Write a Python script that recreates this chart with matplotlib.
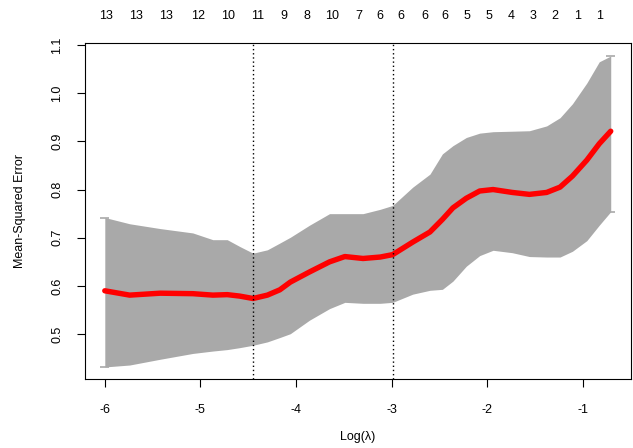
import numpy as np
import matplotlib
matplotlib.use('Agg')
import matplotlib.pyplot as plt

plt.rcParams['font.family'] = ['Liberation Sans', 'DejaVu Sans']
plt.rcParams['axes.unicode_minus'] = False

# log(lambda) positions of the read-off points
log_lambda = [-6.00, -5.74, -5.42, -5.08, -4.87, -4.72, -4.59, -4.45, -4.30, -4.17,
              -4.06, -3.86, -3.65, -3.49, -3.30, -3.12, -2.99, -2.78, -2.60, -2.47,
              -2.36, -2.22, -2.08, -1.94, -1.74, -1.56, -1.38, -1.24, -1.11, -0.96,
              -0.83, -0.71]
# cross-validated mean-squared error
cvm = [0.590, 0.581, 0.585, 0.584, 0.581, 0.582, 0.579, 0.574, 0.581, 0.592,
       0.608, 0.629, 0.650, 0.661, 0.657, 0.660, 0.665, 0.691, 0.712, 0.738,
       0.762, 0.782, 0.797, 0.800, 0.794, 0.790, 0.794, 0.805, 0.828, 0.861,
       0.895, 0.921]
cv_upper = [0.742, 0.729, 0.719, 0.710, 0.696, 0.696, 0.682, 0.668, 0.675, 0.689,
            0.701, 0.726, 0.750, 0.750, 0.750, 0.759, 0.767, 0.805, 0.832, 0.874,
            0.891, 0.908, 0.917, 0.920, 0.921, 0.922, 0.932, 0.949, 0.978, 1.021,
            1.065, 1.077]
cv_lower = [0.432, 0.436, 0.448, 0.460, 0.465, 0.468, 0.472, 0.477, 0.484, 0.493,
            0.501, 0.529, 0.553, 0.566, 0.564, 0.564, 0.566, 0.583, 0.591, 0.593,
            0.610, 0.641, 0.663, 0.674, 0.669, 0.661, 0.660, 0.660, 0.672, 0.694,
            0.726, 0.754]

lambda_min = -4.45
lambda_1se = -2.99

# number of nonzero coefficients (top axis)
nz_pos = [-5.99, -5.67, -5.36, -5.03, -4.71, -4.40, -4.13, -3.89, -3.62, -3.34,
          -3.12, -2.90, -2.65, -2.44, -2.21, -1.98, -1.75, -1.52, -1.29, -1.06, -0.83]
nz_labels = ['13', '13', '13', '12', '10', '11', '9', '8', '10', '7',
             '6', '6', '6', '6', '5', '5', '4', '3', '2', '1', '1']

fig = plt.figure(figsize=(6.33, 4.48), dpi=100)
ax = fig.add_axes([85 / 633, 1 - 379 / 448, 546 / 633, 336 / 448])

ax.fill_between(log_lambda, cv_lower, cv_upper, color='#A9A9A9', lw=0)
# end caps of the error bars
for i in [0, -1]:
    ax.hlines([cv_upper[i], cv_lower[i]], log_lambda[i] - 0.045, log_lambda[i] + 0.045,
              color='#A9A9A9', lw=1.2)
ax.plot(log_lambda, cvm, color='red', lw=3.9, solid_capstyle='round')

ax.axvline(lambda_min, color='black', lw=1, linestyle=(0, (1, 2)))
ax.axvline(lambda_1se, color='black', lw=1, linestyle=(0, (1, 2)))

ax.set_xlim(-6.207, -0.498)
ax.set_ylim(0.407, 1.104)
ax.set_xticks([-6, -5, -4, -3, -2, -1])
ax.set_yticks([0.5, 0.6, 0.7, 0.8, 0.9, 1.0, 1.1])
ax.set_yticklabels(['0.5', '0.6', '0.7', '0.8', '0.9', '1.0', '1.1'],
                   rotation=90, va='center')
ax.tick_params(axis='x', length=5.8, width=0.8, pad=12, labelsize=9)
ax.tick_params(axis='y', length=6.1, width=0.8, pad=9.5, labelsize=9)

for p, lab in zip(nz_pos, nz_labels):
    ax.text(p, 1.080, lab, transform=ax.get_xaxis_transform(),
            ha='center', va='center', fontsize=9)

ax.set_xlabel('Log(λ)', fontsize=9, labelpad=11)
ax.set_ylabel('Mean-Squared Error', fontsize=9, labelpad=18)

for s in ax.spines.values():
    s.set_linewidth(0.8)

fig.savefig('out.png', dpi=100)
